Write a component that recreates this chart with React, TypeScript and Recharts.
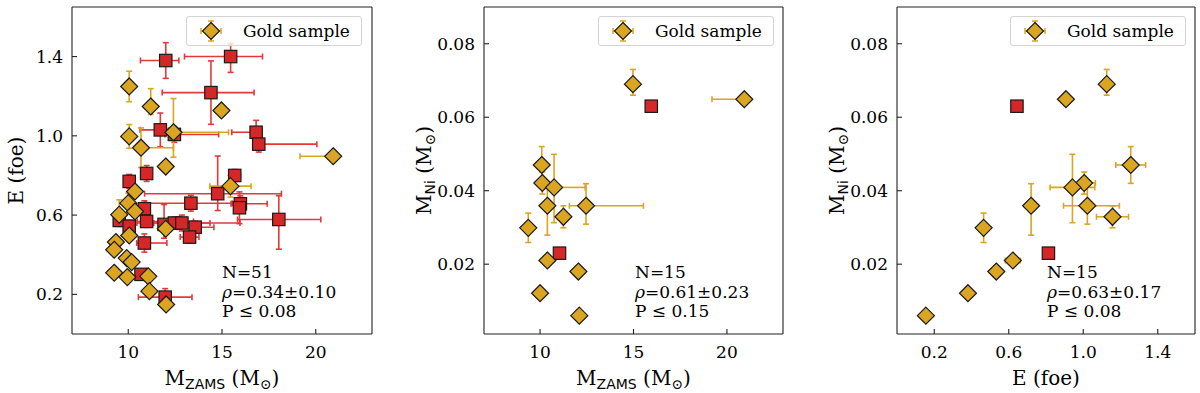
import React from "react";
import { ScatterChart, Scatter, XAxis, YAxis, ErrorBar, Legend } from "recharts";

type Err = number | [number, number];

const RED = "#d62728";
const RED_BAR = "#e03a3a";
const GOLD = "#daa520";
const EDGE = "#1a1a1a";
const FONT = "DejaVu Serif";

// ---- panel 1: explosion energy vs progenitor mass (all 51 objects)
const redMzams = [12.0, 15.46, 14.41, 11.71, 12.46, 16.82, 16.96, 10.98, 10.05, 15.68, 14.77, 15.98, 15.93, 18.03, 10.86, 10.98, 9.52, 10.05, 11.91, 12.46, 12.86, 13.34, 13.57, 13.27, 10.86, 10.68, 11.97];
const redE = [1.38, 1.4, 1.218, 1.03, 1.007, 1.018, 0.958, 0.81, 0.77, 0.8, 0.708, 0.657, 0.637, 0.578, 0.632, 0.568, 0.573, 0.544, 0.553, 0.56, 0.56, 0.66, 0.539, 0.489, 0.459, 0.301, 0.186];
const redMzamsErr: Err[] = [[1.35, 0.7], [2.46, 1.7], [2.6, 2.3], [1.08, 0.75], [0.5, 2.36], [1.3, 0.3], [0.3, 3.1], 0, 0, [0.3, 0.3], [3.9, 3.4], [0.5, 1.43], 0, [2.2, 2.24], 0, [0.5, 2.5], 0, 0, [0.3, 0.3], [2.0, 3.5], [1.5, 1.5], [2.4, 2.2], [1.0, 1.0], [0.5, 0.5], [0.41, 1.2], 0, [1.43, 1.43]];
const redEErr: Err[] = [[0.09, 0.09], [0.08, 0.065], [0.16, 0.16], [0.085, 0.085], [0.04, 0.04], [0.06, 0.06], [0.04, 0.04], [0.04, 0.04], [0.035, 0.035], [0.03, 0.03], [0.085, 0.19], [0.04, 0.04], [0.08, 0.08], [0.15, 0.12], [0.04, 0.04], [0.03, 0.03], 0, [0.03, 0.03], [0.07, 0.1], [0.03, 0.03], [0.04, 0.04], [0.04, 0.04], [0.03, 0.03], [0.03, 0.03], [0.046, 0.046], 0, [0.043, 0.043]];

const goldMzams = [10.05, 11.2, 14.97, 10.05, 12.41, 10.68, 20.93, 12.0, 15.45, 10.36, 10.0, 10.36, 9.52, 10.05, 12.0, 9.34, 9.25, 9.92, 10.18, 9.25, 9.95, 11.07, 11.13, 12.02];
const goldE = [1.249, 1.148, 1.128, 0.997, 1.018, 0.94, 0.897, 0.845, 0.746, 0.719, 0.66, 0.618, 0.602, 0.497, 0.531, 0.464, 0.425, 0.383, 0.363, 0.309, 0.287, 0.291, 0.216, 0.149];
const goldMzamsErr: Err[] = [0, 0, 0, 0, [0.3, 2.94], [0, 1.73], [1.77, 0], 0, [1.1, 1.1], 0, 0, 0, 0, 0, 0, 0, 0, 0, 0, 0, 0, 0, 0, 0];
const goldEErr: Err[] = [[0.077, 0.077], [0.04, 0.09], 0, [0.06, 0.06], [0.126, 0.17], [0.1, 0.1], [0.02, 0.02], 0, [0.055, 0.055], 0, [0.05, 0.05], 0, [0.06, 0.075], 0, 0, 0, 0, 0, 0, 0, 0, 0, 0, 0];

// ---- panels 2 and 3: nickel mass (15 objects)
const niGoldMzams = [14.97, 20.93, 10.09, 10.12, 10.75, 10.39, 11.25, 12.46, 9.37, 10.39, 12.05, 10.0, 12.1];
const niGoldE = [1.126, 0.907, 1.255, 1.005, 0.942, 0.72, 1.157, 1.022, 0.465, 0.622, 0.533, 0.381, 0.155];
const niGold = [0.069, 0.0649, 0.047, 0.0421, 0.0409, 0.0359, 0.0329, 0.0359, 0.0299, 0.021, 0.018, 0.0121, 0.006];
const niGoldMzamsErr: Err[] = [0, [1.73, 0], 0, 0, [0, 1.66], 0, 0, [0.89, 3.07], 0, 0, 0, 0, 0];
const niGoldEErr: Err[] = [[0.02, 0.02], [0.02, 0.02], [0.08, 0.08], [0.06, 0.06], [0.12, 0.12], 0, [0.086, 0.086], [0.128, 0.172], 0, [0.04, 0.04], 0, 0, 0];
const niGoldErr: Err[] = [[0.003, 0.004], 0, [0.005, 0.005], [0.003, 0.003], [0.0096, 0.009], [0.008, 0.006], [0.003, 0.003], [0.005, 0.006], [0.004, 0.004], 0, 0, 0, 0];

const niRedMzams = [15.95, 11.04];
const niRedE = [0.644, 0.813];
const niRed = [0.063, 0.023];

const stats = [
  { n: "N=51", rho: "=0.34±0.10", p: "P ≤ 0.08" },
  { n: "N=15", rho: "=0.61±0.23", p: "P ≤ 0.15" },
  { n: "N=15", rho: "=0.63±0.17", p: "P ≤ 0.08" },
];

const mzamsTicks = [10, 15, 20];
const eTicks = [0.2, 0.6, 1.0, 1.4];
const niTicks = [0.02, 0.04, 0.06, 0.08];

const pts = (xs: number[], ys: number[], xe?: Err[], ye?: Err[]) =>
  xs.map((x, i) => ({ x, y: ys[i], xe: xe ? xe[i] : 0, ye: ye ? ye[i] : 0 }));

const Diamond = (p: any) => {
  const { cx, cy } = p;
  const r = 8.5;
  return (
    <polygon
      points={`${cx},${cy - r} ${cx + r},${cy} ${cx},${cy + r} ${cx - r},${cy}`}
      fill={GOLD}
      stroke={EDGE}
      strokeWidth={1.2}
    />
  );
};

const Square = (p: any) => (
  <rect x={p.cx - 6.2} y={p.cy - 6.2} width={12.4} height={12.4} fill={RED} stroke={EDGE} strokeWidth={1.2} />
);

const MZamsLabel = () => (
  <>
    M<tspan fontFamily="DejaVu Sans" fontSize={14} dy={4}>ZAMS</tspan>
    <tspan dy={-4}> (M</tspan>
    <tspan fontSize={14} dy={4}>⊙</tspan>
    <tspan dy={-4}>)</tspan>
  </>
);

const MNiLabel = () => (
  <>
    M<tspan fontFamily="DejaVu Sans" fontSize={14} dy={4}>Ni</tspan>
    <tspan dy={-4}> (M</tspan>
    <tspan fontSize={14} dy={4}>⊙</tspan>
    <tspan dy={-4}>)</tspan>
  </>
);

const GoldLegend = () => (
  <div
    style={{
      boxSizing: "border-box",
      width: 176,
      height: 30,
      border: "1px solid #d4d4d4",
      borderRadius: 3,
      background: "rgba(255,255,255,0.8)",
      display: "flex",
      alignItems: "center",
      fontFamily: FONT,
      fontSize: 17,
      color: "#000",
    }}
  >
    <svg width={56} height={28} style={{ flex: "none" }}>
      <g stroke={GOLD} strokeWidth={1.5}>
        <line x1={14} y1={14} x2={34} y2={14} />
        <line x1={14} y1={11} x2={14} y2={17} />
        <line x1={34} y1={11} x2={34} y2={17} />
        <line x1={24} y1={4} x2={24} y2={24} />
        <line x1={21} y1={4} x2={27} y2={4} />
        <line x1={21} y1={24} x2={27} y2={24} />
      </g>
      <Diamond cx={24} cy={14} />
    </svg>
    <span>Gold sample</span>
  </div>
);

type PanelProps = {
  left: number;
  width: number;
  plotLeft: number;
  plotRight: number;
  xDomain: [number, number];
  xTicks: number[];
  xDigits: number;
  yDomain: [number, number];
  yTicks: number[];
  yDigits: number;
  red: any[];
  gold: any[];
  xLabel: React.ReactNode;
  yLabel: React.ReactNode;
  yLabelX: number;
  legendLeft: number;
  statsLeft: number;
  stat: { n: string; rho: string; p: string };
};

function Panel(p: PanelProps) {
  const height = 393;
  const yw = 62;
  const axisStyle = { stroke: "#222", strokeWidth: 1.1 };
  const tickFont = { fontSize: 17, fill: "#000", fontFamily: FONT };
  return (
    <div style={{ position: "absolute", left: p.left, top: 0, width: p.width, height }}>
      <ScatterChart
        width={p.width}
        height={height}
        margin={{ top: 6, right: p.width - p.plotRight - 1, bottom: 19, left: p.plotLeft - yw }}
      >
        <XAxis
          type="number"
          dataKey="x"
          domain={p.xDomain}
          ticks={p.xTicks}
          allowDataOverflow
          height={40}
          tickSize={-5}
          tickMargin={17}
          tick={tickFont}
          tickFormatter={(v: number) => v.toFixed(p.xDigits)}
          axisLine={axisStyle}
          tickLine={axisStyle}
          label={(lp: any) => {
            const vb = lp.viewBox;
            return (
              <text x={vb.x + vb.width / 2} y={vb.y + 51} textAnchor="middle" fontFamily={FONT} fontSize={20} fill="#000">
                {p.xLabel}
              </text>
            );
          }}
        />
        <YAxis
          type="number"
          dataKey="y"
          domain={p.yDomain}
          ticks={p.yTicks}
          allowDataOverflow
          width={yw}
          tickSize={-5}
          tickMargin={14}
          tick={tickFont}
          tickFormatter={(v: number) => v.toFixed(p.yDigits)}
          axisLine={axisStyle}
          tickLine={axisStyle}
          label={(lp: any) => {
            const vb = lp.viewBox;
            const cy = vb.y + vb.height / 2;
            return (
              <text
                x={p.yLabelX}
                y={cy}
                transform={`rotate(-90 ${p.yLabelX} ${cy})`}
                textAnchor="middle"
                fontFamily={FONT}
                fontSize={20}
                fill="#000"
              >
                {p.yLabel}
              </text>
            );
          }}
        />
        <XAxis
          xAxisId="top"
          orientation="top"
          type="number"
          dataKey="x"
          domain={p.xDomain}
          ticks={p.xTicks}
          allowDataOverflow
          height={1}
          tickSize={-5}
          tick={false}
          axisLine={axisStyle}
          tickLine={axisStyle}
        />
        <YAxis
          yAxisId="right"
          orientation="right"
          type="number"
          dataKey="y"
          domain={p.yDomain}
          ticks={p.yTicks}
          allowDataOverflow
          width={1}
          tickSize={-5}
          tick={false}
          axisLine={axisStyle}
          tickLine={axisStyle}
        />
        <Scatter xAxisId="top" yAxisId="right" data={p.gold} shape={() => null} isAnimationActive={false} legendType="none" />
        <Scatter data={p.red} shape={Square} isAnimationActive={false} legendType="none">
          <ErrorBar dataKey="xe" direction="x" width={3} stroke={RED_BAR} strokeWidth={1.6} />
          <ErrorBar dataKey="ye" direction="y" width={3} stroke={RED_BAR} strokeWidth={1.6} />
        </Scatter>
        <Scatter data={p.gold} shape={Diamond} isAnimationActive={false} name="Gold sample">
          <ErrorBar dataKey="xe" direction="x" width={3} stroke={GOLD} strokeWidth={1.6} />
          <ErrorBar dataKey="ye" direction="y" width={3} stroke={GOLD} strokeWidth={1.6} />
        </Scatter>
        <Legend
          layout="vertical"
          align="center"
          verticalAlign="middle"
          wrapperStyle={{ left: p.legendLeft, top: 16, width: 176 }}
          content={() => <GoldLegend />}
        />
      </ScatterChart>
      <div
        style={{
          position: "absolute",
          left: p.statsLeft,
          top: 263,
          fontFamily: FONT,
          fontSize: 17,
          lineHeight: "19.5px",
          whiteSpace: "pre",
          color: "#000",
        }}
      >
        <div>{p.stat.n}</div>
        <div>
          <i>ρ</i>
          {p.stat.rho}
        </div>
        <div>{p.stat.p}</div>
      </div>
    </div>
  );
}

export default function App() {
  const niDomain: [number, number] = [0.001, 0.09];
  return (
    <div style={{ position: "absolute", left: 0, top: 0, width: 1200, height: 393, background: "#fff" }}>
      <Panel
        left={0}
        width={380}
        plotLeft={72}
        plotRight={372}
        xDomain={[7, 23]}
        xTicks={mzamsTicks}
        xDigits={0}
        yDomain={[0, 1.65]}
        yTicks={eTicks}
        yDigits={1}
        red={pts(redMzams, redE, redMzamsErr, redEErr)}
        gold={pts(goldMzams, goldE, goldMzamsErr, goldEErr)}
        xLabel={<MZamsLabel />}
        yLabel="E (foe)"
        yLabelX={23}
        legendLeft={186}
        statsLeft={222}
        stat={stats[0]}
      />
      <Panel
        left={400}
        width={390}
        plotLeft={84}
        plotRight={383}
        xDomain={[7, 23]}
        xTicks={mzamsTicks}
        xDigits={0}
        yDomain={niDomain}
        yTicks={niTicks}
        yDigits={2}
        red={pts(niRedMzams, niRed)}
        gold={pts(niGoldMzams, niGold, niGoldMzamsErr, niGoldErr)}
        xLabel={<MZamsLabel />}
        yLabel={<MNiLabel />}
        yLabelX={31}
        legendLeft={198}
        statsLeft={235}
        stat={stats[1]}
      />
      <Panel
        left={810}
        width={390}
        plotLeft={87}
        plotRight={385}
        xDomain={[0, 1.6]}
        xTicks={eTicks}
        xDigits={1}
        yDomain={niDomain}
        yTicks={niTicks}
        yDigits={2}
        red={pts(niRedE, niRed)}
        gold={pts(niGoldE, niGold, niGoldEErr, niGoldErr)}
        xLabel="E (foe)"
        yLabel={<MNiLabel />}
        yLabelX={34}
        legendLeft={200}
        statsLeft={237}
        stat={stats[2]}
      />
    </div>
  );
}
